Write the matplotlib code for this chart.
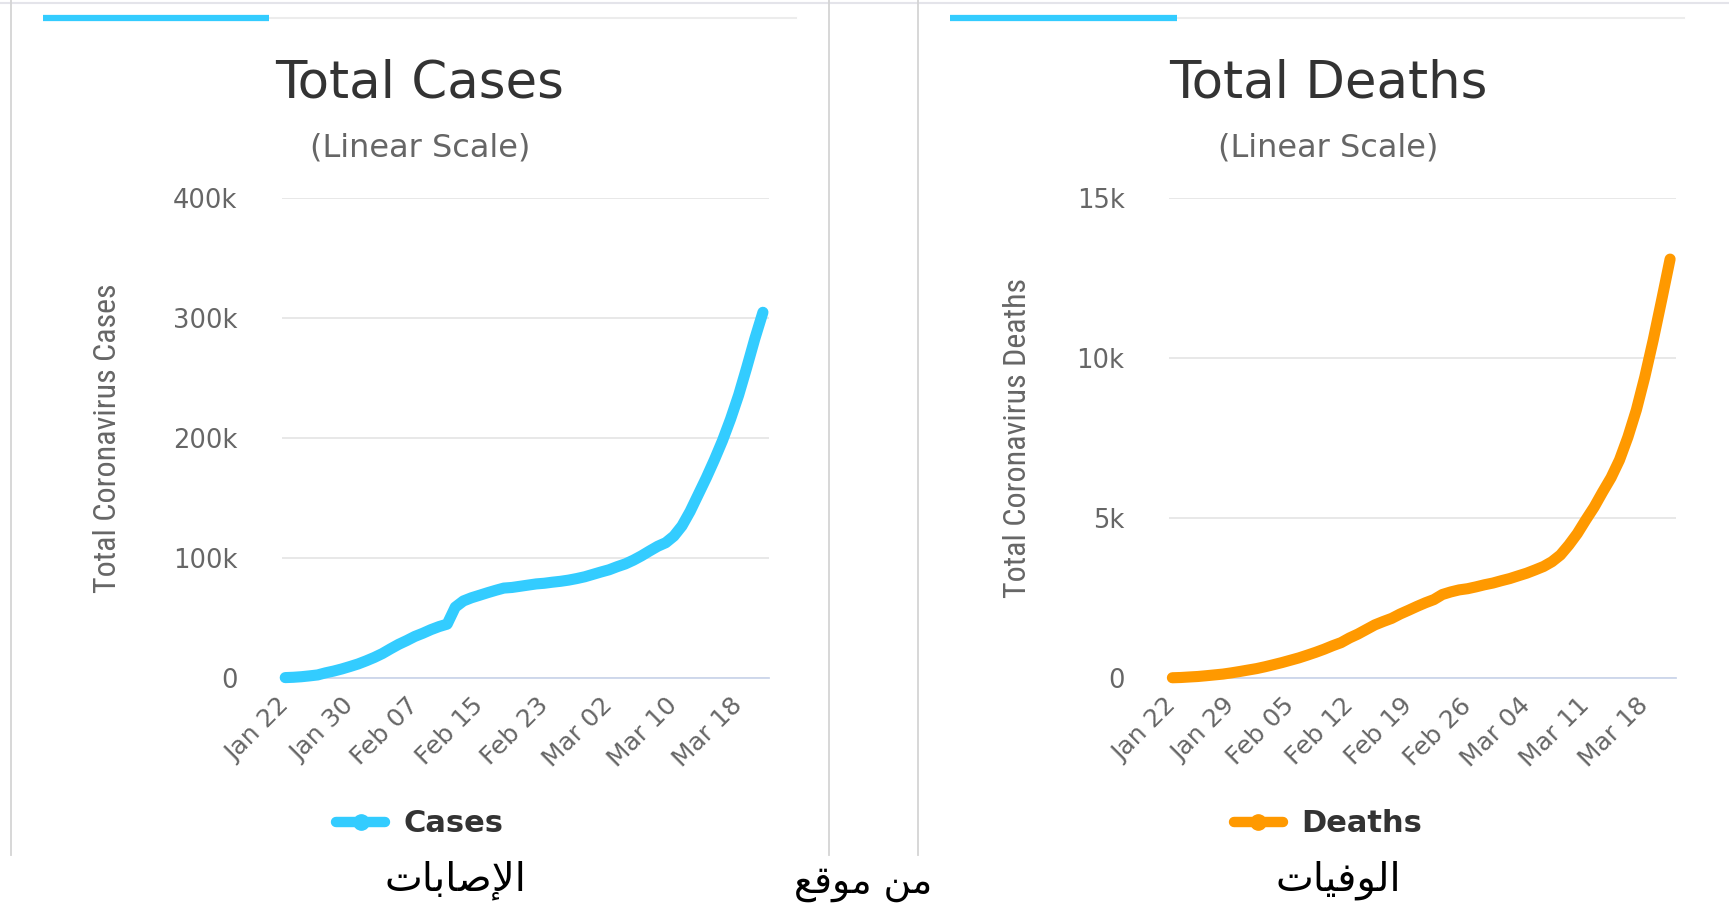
"""
Total Cases / Total Deaths (worldometer, linear scale) + Arabic captions
"""
import numpy as np
import pandas as pd
import matplotlib
matplotlib.use('Agg')
import matplotlib.pyplot as plt
from matplotlib import font_manager
from matplotlib.lines import Line2D
from matplotlib.ticker import FuncFormatter

# daily totals, Jan 22 .. Mar 21 2020
DATES = list(pd.date_range('2020-01-22', periods=60).strftime('%b %d'))

CASES = [580, 845, 1317, 2015, 2800, 4581, 6058, 7813, 9823, 11950,
         14553, 17391, 20630, 24545, 28266, 31439, 34876, 37552, 40553, 43099,
         45134, 59287, 64438, 67100, 69197, 71329, 73332, 75184, 75700, 76677,
         77673, 78651, 79205, 80087, 80828, 81820, 83112, 84615, 86604, 88585,
         90443, 93016, 95314, 98425, 102050, 106099, 109991, 113000, 118500, 127000,
         139000, 153000, 167000, 182000, 198000, 216000, 236000, 259000, 283000, 305000]

DEATHS = [17, 25, 41, 56, 80, 106, 132, 170, 213, 259,
          304, 362, 426, 492, 565, 638, 724, 813, 910, 1018,
          1115, 1261, 1383, 1526, 1669, 1775, 1873, 2009, 2126, 2247,
          2360, 2460, 2618, 2699, 2763, 2800, 2858, 2923, 2977, 3050,
          3117, 3202, 3285, 3387, 3494, 3644, 3853, 4166, 4522, 4947,
          5353, 5822, 6270, 6822, 7540, 8385, 9416, 10572, 11822, 13100]

CASES_TICKS = ['Jan 22', 'Jan 30', 'Feb 07', 'Feb 15', 'Feb 23', 'Mar 02', 'Mar 10', 'Mar 18']
DEATHS_TICKS = ['Jan 22', 'Jan 29', 'Feb 05', 'Feb 12', 'Feb 19', 'Feb 26', 'Mar 04', 'Mar 11', 'Mar 18']
CASES_YTICKS = [0, 100000, 200000, 300000, 400000]
DEATHS_YTICKS = [0, 5000, 10000, 15000]

CAPTIONS = ['الإصابات', 'من موقع', 'الوفيات']

BLUE = '#33ccff'
ORANGE = '#ff9900'

W, H = 1729, 909

# --- minimal arabic shaping (matplotlib has no complex text layout) ---
FORMS = {
    'ا': ('\uFE8D', '\uFE8E', None, None),
    'إ': ('\uFE87', '\uFE88', None, None),
    'ل': ('\uFEDD', '\uFEDE', '\uFEDF', '\uFEE0'),
    'ص': ('\uFEB9', '\uFEBA', '\uFEBB', '\uFEBC'),
    'ب': ('\uFE8F', '\uFE90', '\uFE91', '\uFE92'),
    'ت': ('\uFE95', '\uFE96', '\uFE97', '\uFE98'),
    'و': ('\uFEED', '\uFEEE', None, None),
    'ف': ('\uFED1', '\uFED2', '\uFED3', '\uFED4'),
    'ي': ('\uFEF1', '\uFEF2', '\uFEF3', '\uFEF4'),
    'م': ('\uFEE1', '\uFEE2', '\uFEE3', '\uFEE4'),
    'ن': ('\uFEE5', '\uFEE6', '\uFEE7', '\uFEE8'),
    'ق': ('\uFED5', '\uFED6', '\uFED7', '\uFED8'),
    'ع': ('\uFEC9', '\uFECA', '\uFECB', '\uFECC'),
}
LAM_ALEF = {'ا': ('\uFEFB', '\uFEFC'), 'إ': ('\uFEF9', '\uFEFA')}


def shape_ar(word):
    units = []
    i = 0
    while i < len(word):
        c = word[i]
        if c == 'ل' and i + 1 < len(word) and word[i + 1] in LAM_ALEF:
            units.append(('LA', word[i + 1]))
            i += 2
        else:
            units.append(('C', c))
            i += 1

    def joins_next(u):
        return u[0] == 'C' and u[1] in FORMS and FORMS[u[1]][2] is not None

    def joins_prev(u):
        return u[0] == 'LA' or u[1] in FORMS

    res = []
    for k, u in enumerate(units):
        a = k > 0 and joins_next(units[k - 1]) and joins_prev(u)
        b = k + 1 < len(units) and joins_next(u) and joins_prev(units[k + 1])
        kind, c = u
        if kind == 'LA':
            g = LAM_ALEF[c][1 if a else 0]
        elif c not in FORMS:
            g = c
        else:
            iso, fin, ini, med = FORMS[c]
            g = med if (a and b) else fin if a else ini if b else iso
        res.append(g)
    return ''.join(reversed(res))


def fx(x):
    return x / W


def fy(y):
    return 1 - y / H


names = {f.name for f in font_manager.fontManager.ttflist}
NARROW = next((n for n in ['Liberation Sans Narrow', 'Roboto Condensed', 'Open Sans Condensed']
               if n in names), 'Liberation Sans')

plt.rcParams['font.family'] = ['DejaVu Sans']

fig = plt.figure(figsize=(W / 100, H / 100), dpi=100)
fig.patch.set_facecolor('white')

# panel frame lines
frame = dict(transform=fig.transFigure, color='#d4d4d4', lw=1.3)
fig.add_artist(Line2D([0, 1], [fy(3), fy(3)], color='#e4e4ea', lw=1.5, transform=fig.transFigure))
for xv in [11, 829, 918]:
    fig.add_artist(Line2D([fx(xv), fx(xv)], [fy(0), fy(855)], **frame))
for x0, x1, x2 in [(43, 269, 796), (950, 1177, 1684)]:
    fig.add_artist(Line2D([fx(x1), fx(x2)], [fy(18), fy(18)], color='#ececec', lw=1.5,
                          transform=fig.transFigure))
    fig.add_artist(Line2D([fx(x0), fx(x1)], [fy(18), fy(18)], color=BLUE, lw=4.5,
                          solid_capstyle='butt', transform=fig.transFigure))


def kfmt(v, p):
    return '0' if v == 0 else f'{int(v / 1000)}k'


def draw_panel(rect, values, color, ticks, yticks, title, ylabel, legend, cx, ylab_x):
    ax = fig.add_axes(rect)
    x = np.arange(len(values))
    ax.plot(x, values, color=color, lw=8, solid_capstyle='round',
            solid_joinstyle='round', clip_on=False, zorder=3)
    ax.set_xlim(-0.4, 59.7)
    ax.set_ylim(yticks[0], yticks[-1])
    ax.set_yticks(yticks)
    ax.yaxis.set_major_formatter(FuncFormatter(kfmt))
    ax.set_xticks([DATES.index(t) for t in ticks])
    ax.set_xticklabels(ticks, rotation=45, ha='right', va='center', rotation_mode='anchor')
    ax.tick_params(axis='x', length=0, pad=17, labelsize=18, labelcolor='#666666')
    ax.tick_params(axis='y', length=0, pad=32, labelsize=18.5, labelcolor='#666666')
    ax.yaxis.grid(True, color='#e6e6e6', lw=1.3)
    ax.set_axisbelow(True)
    for s in ['top', 'right', 'left']:
        ax.spines[s].set_visible(False)
    ax.spines['bottom'].set_color('#ccd6eb')
    ax.spines['bottom'].set_linewidth(1.3)

    ax.set_ylabel(ylabel, fontsize=23, color='#666666', family=NARROW)
    ax.yaxis.label.set_verticalalignment('center')
    ax.yaxis.set_label_coords(ylab_x, 0.5)

    fig.text(fx(cx), fy(84), title, ha='center', va='center', fontsize=37, color='#333333')
    fig.text(fx(cx), fy(148), '(Linear Scale)', ha='center', va='center', fontsize=23,
             color='#666666')

    handle = Line2D([], [], color=color, lw=7.5, marker='o', markersize=11,
                    solid_capstyle='round')
    ax.legend([handle], [legend], loc='center', bbox_to_anchor=(fx(cx), fy(824)),
              bbox_transform=fig.transFigure, frameon=False, handlelength=1.6,
              handletextpad=0.6, prop={'weight': 'bold', 'size': 22},
              labelcolor='#333333')
    return ax


draw_panel([fx(282), fy(678.3), (768.6 - 282) / W, 480 / H], CASES, BLUE,
           CASES_TICKS, CASES_YTICKS, 'Total Cases', 'Total Coronavirus Cases', 'Cases',
           420, (108 - 282) / (768.6 - 282))
draw_panel([fx(1169), fy(678.3), (1676 - 1169) / W, 480 / H], DEATHS, ORANGE,
           DEATHS_TICKS, DEATHS_YTICKS, 'Total Deaths', 'Total Coronavirus Deaths', 'Deaths',
           1328, (1017 - 1169) / (1676 - 1169))

# arabic captions under the screenshot
for txt, cx, cy, fs in zip(CAPTIONS, [455, 863, 1338], [880, 884, 880], [29, 27, 29]):
    fig.text(fx(cx), fy(cy), shape_ar(txt), ha='center', va='center', fontsize=fs,
             color='black', family=['DejaVu Sans'])

fig.savefig('out.png', dpi=100, facecolor='white')
